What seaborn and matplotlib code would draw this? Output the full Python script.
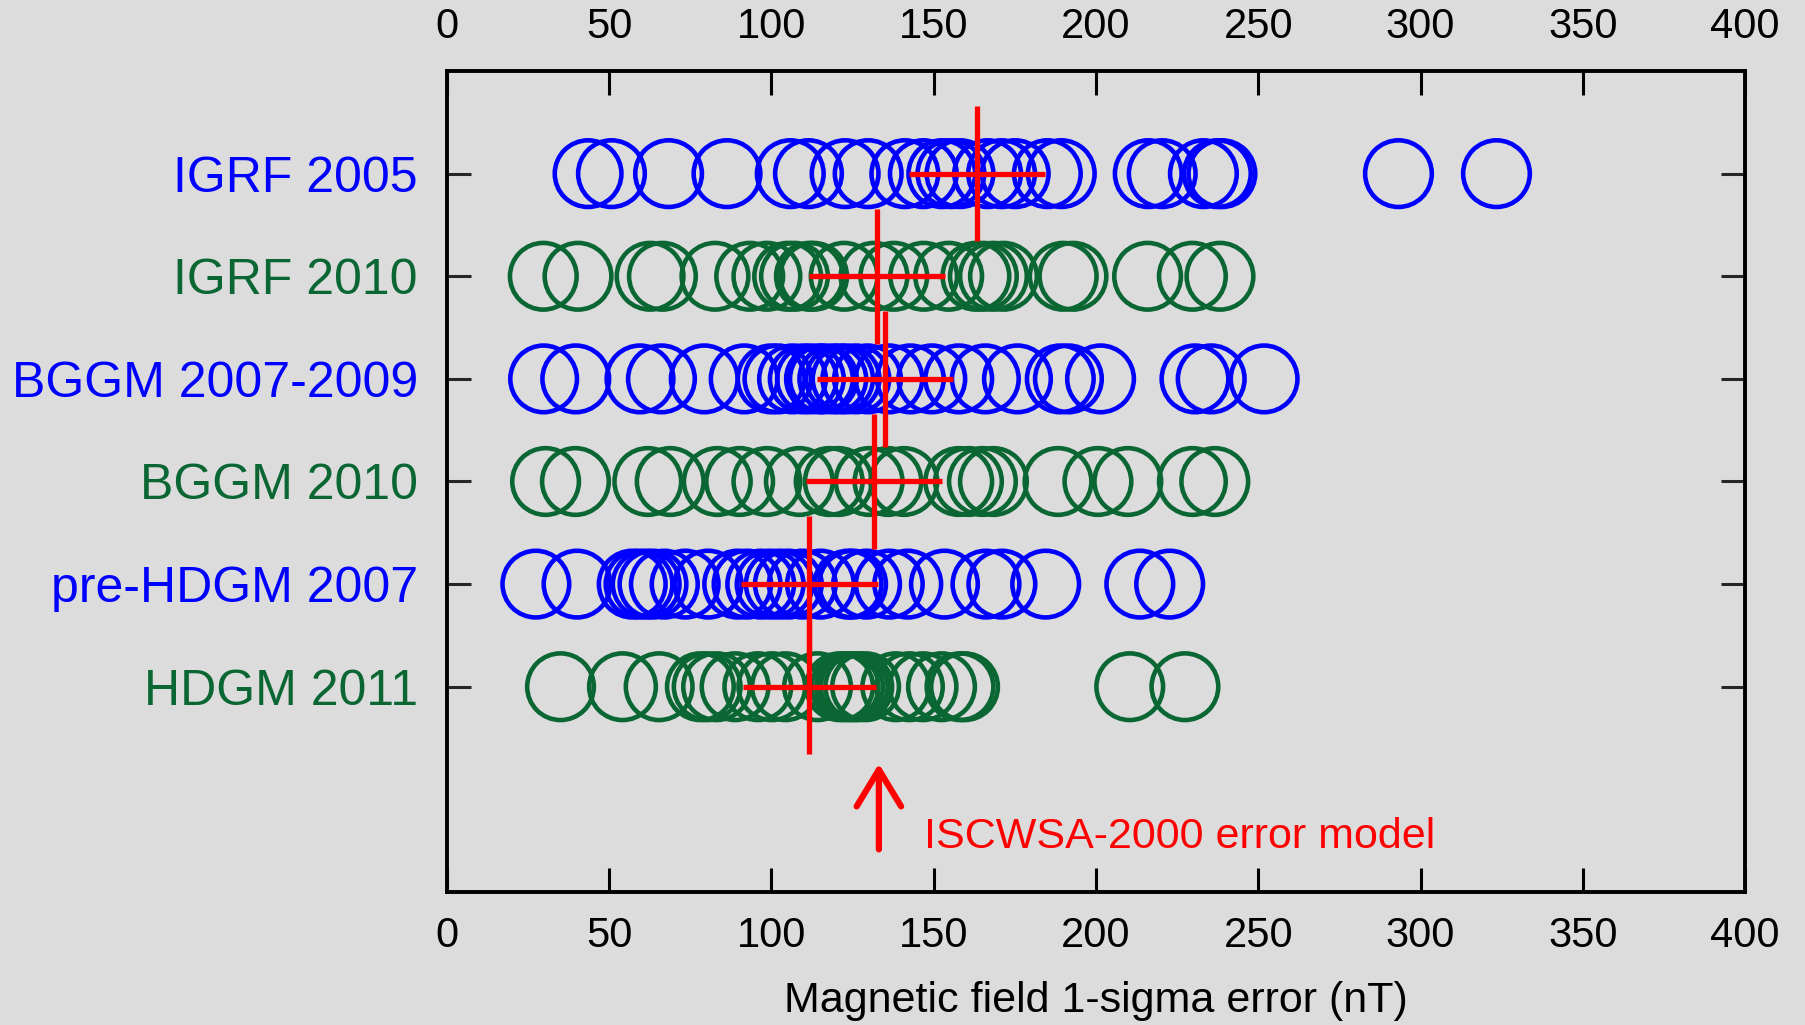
import matplotlib
matplotlib.use("Agg")
import matplotlib.pyplot as plt
import seaborn as sns
import pandas as pd

# model names (top to bottom) and their colours
models = ["IGRF 2005", "IGRF 2010", "BGGM 2007-2009", "BGGM 2010", "pre-HDGM 2007", "HDGM 2011"]
model_colors = ["#0000ff", "#0a6632", "#0000ff", "#0a6632", "#0000ff", "#0a6632"]

# 1-sigma errors per survey (nT)
igrf2005 = [43.5, 50.7, 68.3, 86.3, 105.8, 111.4, 122.7, 129.8, 141.1, 146.8, 152.5, 155.3,
            158.1, 166.6, 170.9, 175.1, 185.0, 189.3, 216.1, 220.4, 233.1, 237.4, 238.8,
            293.2, 323.4]
igrf2010 = [29.7, 40.4, 62.6, 66.4, 82.6, 93.3, 98.6, 105.0, 107.1, 111.7, 113.0, 122.4,
            131.6, 137.7, 146.9, 154.6, 163.0, 165.3, 168.4, 171.5, 189.9, 192.9, 215.9,
            229.7, 238.2]
bggm0709 = [29.8, 39.7, 59.5, 66.1, 79.3, 91.6, 99.9, 102.0, 106.5, 109.8, 112.0, 114.8,
            116.0, 118.9, 121.0, 123.0, 126.0, 129.6, 136.2, 142.8, 149.4, 157.7, 165.9,
            175.8, 189.0, 191.5, 201.4, 230.5, 235.5, 251.8]
bggm2010 = [30.4, 39.6, 61.9, 68.8, 83.3, 90.2, 98.6, 108.6, 117.8, 120.6, 130.1, 135.9,
            140.8, 157.7, 160.7, 165.0, 168.4, 188.3, 200.6, 209.8, 229.7, 236.6]
prehdgm2007 = [27.4, 40.1, 57.1, 59.2, 61.4, 63.5, 67.0, 73.4, 80.5, 89.6, 92.5, 96.7, 99.6,
               102.4, 105.2, 109.5, 115.1, 123.6, 125.0, 129.3, 136.3, 142.0, 153.3, 166.1,
               171.0, 184.5, 213.5, 222.7]
hdgm2011 = [35.0, 54.1, 65.4, 78.1, 80.2, 83.1, 88.8, 95.8, 100.1, 104.3, 114.2, 121.0,
            122.7, 124.1, 125.5, 126.9, 129.0, 138.3, 142.5, 146.7, 152.4, 158.1, 159.5,
            210.4, 227.4]
all_errors = [igrf2005, igrf2010, bggm0709, bggm2010, prehdgm2007, hdgm2011]

# red crosses: mean and spread for each model
cross_center = [163.3, 132.5, 134.9, 131.6, 111.7, 111.7]
cross_halfwidth = [21.0, 21.0, 21.0, 21.0, 21.0, 20.5]
cross_halfheight = 0.66

# ISCWSA-2000 arrow
iscwsa_value = 133.1
iscwsa_label = "ISCWSA-2000 error model"

xticks = [0, 50, 100, 150, 200, 250, 300, 350, 400]
xlabel = "Magnetic field 1-sigma error (nT)"

rows = []
for i, errs in enumerate(all_errors):
    for e in errs:
        rows.append({"model": models[i], "row": i, "error": e})
df = pd.DataFrame(rows)

sns.set_style("ticks")
bg = "#dcdcdc"
plt.rcParams["font.family"] = ["Liberation Sans", "DejaVu Sans"]
plt.rcParams["axes.linewidth"] = 2.8
plt.rcParams["text.color"] = "black"
plt.rcParams["axes.labelcolor"] = "black"

fig = plt.figure(figsize=(18.05, 10.25), dpi=100, facecolor=bg)
ax = fig.add_axes([0.2476, 0.1298, 0.9668 - 0.2476, 0.9307 - 0.1298])
ax.set_facecolor(bg)

for i, name in enumerate(models):
    sub = df[df["model"] == name]
    sns.scatterplot(data=sub, x="error", y="row", ax=ax, marker="o", s=48 ** 2,
                    facecolor="none", edgecolor=model_colors[i], linewidth=3.3,
                    legend=False, zorder=2)

ax.errorbar(cross_center, list(range(len(models))), xerr=cross_halfwidth,
            yerr=cross_halfheight, fmt="none", ecolor="red", elinewidth=3.8,
            capsize=0, zorder=3)

ax.annotate("", xy=(iscwsa_value, 5.75), xytext=(iscwsa_value, 6.585),
            arrowprops=dict(arrowstyle="->, head_length=0.66, head_width=0.4",
                            color="red", lw=4.5, mutation_scale=40,
                            shrinkA=0, shrinkB=0))
ax.text(147, 6.575, iscwsa_label, color="red", fontsize=31, va="baseline", ha="left")

ax.set_xlim(0, 400)
ax.set_ylim(7, -1)
ax.set_xticks(xticks)
ax.set_xticklabels([str(t) for t in xticks])
ax.set_yticks(list(range(len(models))))
ax.set_yticklabels(models)
for lab, c in zip(ax.get_yticklabels(), model_colors):
    lab.set_color(c)

ax.tick_params(axis="x", direction="in", top=True, labeltop=True, length=17,
               width=2.2, labelsize=30, pad=17, colors="black")
ax.tick_params(axis="y", direction="in", right=True, length=17, width=2.2,
               labelsize=36, pad=21)
ax.set_xlabel(xlabel, fontsize=31, labelpad=18, color="black")
ax.set_ylabel("")
for sp in ax.spines.values():
    sp.set_visible(True)
    sp.set_color("black")

fig.savefig("out.png", dpi=100, facecolor=bg)
